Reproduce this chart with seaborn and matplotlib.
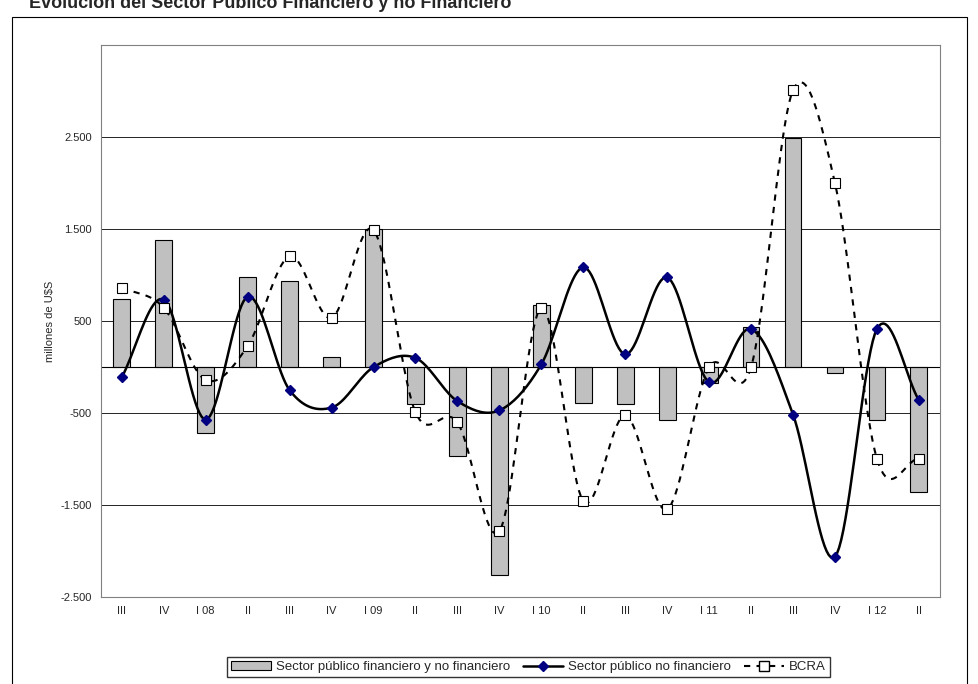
import matplotlib
matplotlib.use("Agg")
import matplotlib.pyplot as plt
import seaborn as sns
import numpy as np
import pandas as pd

periods = ["III", "IV", "I 08", "II", "III", "IV", "I 09", "II", "III", "IV",
           "I 10", "II", "III", "IV", "I 11", "II", "III", "IV", "I 12", "II"]
total = [745, 1380, -720, 985, 940, 110, 1500, -405, -965, -2255,
         670, -385, -405, -580, -175, 440, 2490, -65, -580, -1360]
no_fin = [-110, 735, -570, 765, -250, -440, 0, 100, -370, -470,
          30, 1085, 140, 975, -165, 415, -515, -2060, 415, -360]
bcra = [865, 645, -140, 230, 1205, 535, 1490, -490, -600, -1785,
        645, -1455, -525, -1545, 0, 0, 3010, 2000, -995, -995]


def smooth(y, n=20):
    # Catmull-Rom curve through the points, like Excel's smoothed line
    y = np.asarray(y, float)
    p = np.concatenate([[2 * y[0] - y[1]], y, [2 * y[-1] - y[-2]]])
    xs, ys = [], []
    for i in range(len(y) - 1):
        t = np.linspace(0, 1, n, endpoint=False)
        p0, p1, p2, p3 = p[i], p[i + 1], p[i + 2], p[i + 3]
        v = 0.5 * ((2 * p1) + (-p0 + p2) * t + (2 * p0 - 5 * p1 + 4 * p2 - p3) * t ** 2
                   + (-p0 + 3 * p1 - 3 * p2 + p3) * t ** 3)
        xs.append(i + t)
        ys.append(v)
    xs.append([len(y) - 1])
    ys.append([y[-1]])
    return np.concatenate(xs), np.concatenate(ys)


sns.set_style("white")
plt.rcParams['font.family'] = ['Liberation Sans', 'DejaVu Sans']
fig = plt.figure(figsize=(9.79, 6.84), dpi=100)
fig.patch.set_facecolor("white")
ax = fig.add_axes([0.103, 0.127, 0.857, 0.807])

df = pd.DataFrame({"x": range(len(periods)), "total": total})
sns.barplot(data=df, x="x", y="total", color="#c0c0c0", edgecolor="black",
            linewidth=0.8, width=0.4, saturation=1, ax=ax, zorder=2)

sx, sy = smooth(no_fin)
ax.plot(sx, sy, color="black", lw=1.8, zorder=3)
ax.plot(range(len(periods)), no_fin, ls="none", marker="D", ms=5,
        color="#000080", zorder=4)
bx, by = smooth(bcra)
ax.plot(bx, by, color="black", lw=1.5, ls=(0, (3, 3)), zorder=3)
ax.plot(range(len(periods)), bcra, ls="none", marker="s", ms=7,
        mfc="white", mec="black", mew=0.8, zorder=4)

ax.set_xlim(-0.5, len(periods) - 0.5)
ax.set_ylim(-2500, 3500)
yt = [-2500, -1500, -500, 500, 1500, 2500]
ax.set_yticks(yt)
ax.set_yticklabels([f"{v:,}".replace(",", ".") for v in yt], fontsize=8)
ax.set_xticks(range(len(periods)))
ax.set_xticklabels(periods, fontsize=8)
ax.set_xlabel("")
ax.set_ylabel("millones de U$S", fontsize=8)
ax.axhline(0, color="black", lw=0.8, zorder=2.5)
for v in yt:
    ax.axhline(v, color="black", lw=0.6, zorder=1)
for s in ax.spines.values():
    s.set_color("#808080")
ax.tick_params(axis="both", length=3, color="black")

from matplotlib.lines import Line2D
from matplotlib.patches import Patch
handles = [Patch(fc="#c0c0c0", ec="black", lw=0.8),
           Line2D([], [], color="black", lw=1.8, marker="D", ms=5, mfc="#000080", mec="#000080"),
           Line2D([], [], color="black", lw=1.5, ls=(0, (3, 3)), marker="s", ms=7, mfc="white", mec="black")]
leg = fig.legend(handles, ["Sector público financiero y no financiero",
                           "Sector público no financiero", "BCRA"],
                 loc="lower center", bbox_to_anchor=(0.54, 0.0), ncol=3, fontsize=9.5,
                 frameon=True, fancybox=False, edgecolor="black", handlelength=3,
                 columnspacing=1.0, handletextpad=0.4, borderpad=0.3)

fig.add_artist(plt.Rectangle((0.012, -0.01), 0.976, 0.985, transform=fig.transFigure,
                             fill=False, ec="black", lw=0.8))
fig.text(0.03, 0.995, "Evolución del Sector Público Financiero y no Financiero",
         fontsize=13, fontweight="bold", va="center", ha="left")

fig.savefig("out.png", dpi=100)
